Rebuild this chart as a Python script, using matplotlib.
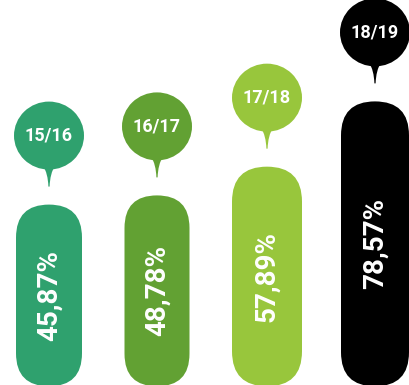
import matplotlib.pyplot as plt
from matplotlib.patches import FancyBboxPatch, Ellipse, PathPatch
from matplotlib.path import Path

# Temporadas y porcentajes
seasons = ['15/16', '16/17', '17/18', '18/19']
values = [45.87, 48.78, 57.89, 78.57]
labels = ['45,87%', '48,78%', '57,89%', '78,57%']
colors = ['#2fa16e', '#62a133', '#98c63c', '#000000']

# posicion horizontal y ancho de cada barra (en pixeles)
centers = [49, 157, 267, 375]
widths = [66, 65, 70, 68]

fig = plt.figure(figsize=(4.1, 3.85), dpi=100)
ax = fig.add_axes([0, 0, 1, 1])
y0, y1 = -11.3, 110.7
ax.set_xlim(0, 410)
ax.set_ylim(y0, y1)
ax.axis('off')

px = (y1 - y0) / 385   # unidades de y por pixel
base = -11.7           # las barras empiezan bajo el borde inferior

for x, w, v, lab, season, c in zip(centers, widths, values, labels, seasons, colors):
    # barra redondeada (pastilla)
    bar = FancyBboxPatch((x - w / 2, base), w, v - base,
                         boxstyle="round,pad=0,rounding_size=%f" % (w / 2),
                         mutation_aspect=px, fc=c, ec='none')
    ax.add_patch(bar)
    ax.text(x, (v + base) / 2, lab, rotation=90, ha='center', va='center',
            color='white', fontsize=20, fontweight='bold', family='Roboto')

    # globo con la temporada
    rx, ry = 35, 34
    cy = v + 69 * px
    ax.add_patch(Ellipse((x, cy), 2 * rx, 2 * ry * px, fc=c, ec='none'))
    by = cy - (ry - 4) * px
    tip = v + 18 * px
    verts = [(x - 6, by), (x - 1, by - 8 * px), (x - 0.6, tip),
             (x + 0.6, tip), (x + 1, by - 8 * px), (x + 6, by), (x - 6, by)]
    codes = [Path.MOVETO, Path.CURVE3, Path.CURVE3,
             Path.LINETO, Path.CURVE3, Path.CURVE3, Path.CLOSEPOLY]
    ax.add_patch(PathPatch(Path(verts, codes), fc=c, ec='none'))
    ax.text(x, cy, season, ha='center', va='center', color='white',
            fontsize=13, fontweight='bold', family='Roboto')

fig.savefig('out.png', dpi=100)
